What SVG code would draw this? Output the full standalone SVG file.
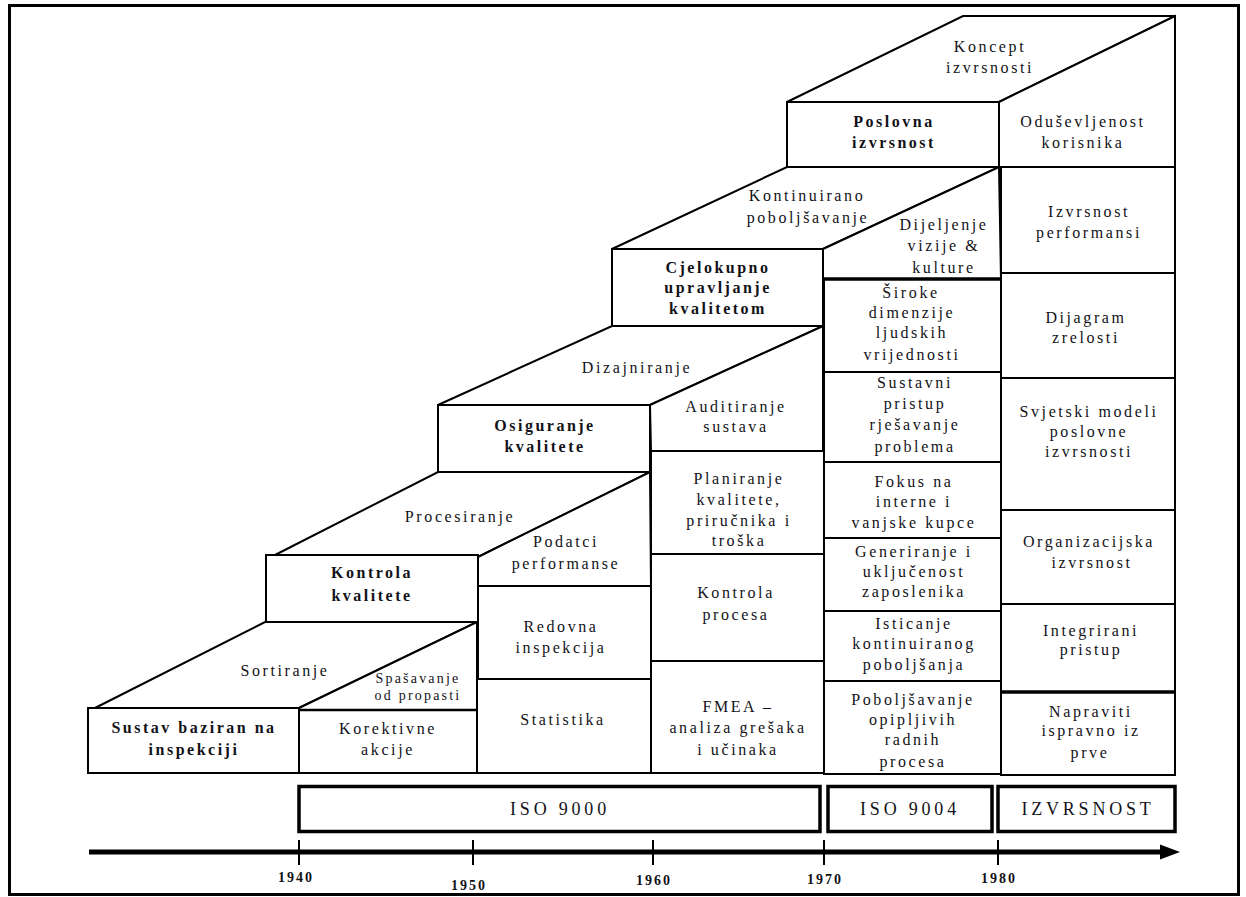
<svg xmlns="http://www.w3.org/2000/svg" width="1246" height="897" viewBox="0 0 1246 897">
<style>
.c{fill:#fff;stroke:#000;stroke-width:2;stroke-linejoin:miter}
.th{stroke:#000;stroke-width:3.5;fill:none}
.t{font-family:"Liberation Serif","Times New Roman",serif;font-size:16px;letter-spacing:2.6px;text-anchor:middle;fill:#121218}
.b{font-weight:bold;letter-spacing:2.5px}
.s{font-size:14px;letter-spacing:2.2px}
.iso{font-size:18px;letter-spacing:3.8px}
.yr{font-size:14px;font-weight:bold;letter-spacing:2px}
.box{fill:#fff;stroke:#000;stroke-width:3.5}
</style>
<rect x="0" y="0" width="1246" height="897" fill="#fff"/>
<rect x="9.5" y="5.5" width="1229" height="889" fill="none" stroke="#000" stroke-width="3"/>

<g id="step-1940">
  <polygon class="c" points="95,708 265,622 477,622 299,708"/>
  <text class="t" x="285" y="676">Sortiranje</text>
  <polygon class="c" points="299,708 477,622 477,710 299,710"/>
  <text class="t s"><tspan x="418" y="683">Spašavanje</tspan><tspan x="418" y="700">od propasti</tspan></text>
  <rect class="c" x="88" y="708" width="211" height="65"/>
  <text class="t b"><tspan x="194" y="733">Sustav baziran na</tspan><tspan x="194" y="755">inspekciji</tspan></text>
  <rect class="c" x="299" y="710" width="178" height="63"/>
  <text class="t"><tspan x="388" y="734">Korektivne</tspan><tspan x="388" y="755">akcije</tspan></text>
  <line x1="299" y1="710" x2="477" y2="710" stroke="#000" stroke-width="2.5"/>
</g>

<g id="step-1950">
  <polygon class="c" points="275,555 438,472 650,472 478,557"/>
  <text class="t" x="460" y="522">Procesiranje</text>
  <polygon class="c" points="478,557 650,472 651,586 478,586"/>
  <text class="t"><tspan x="566" y="547">Podatci</tspan><tspan x="566" y="569">performanse</tspan></text>
  <rect class="c" x="266" y="555" width="212" height="67"/>
  <text class="t b"><tspan x="372" y="578">Kontrola</tspan><tspan x="372" y="601">kvalitete</tspan></text>
  <rect class="c" x="478" y="586" width="173" height="93"/>
  <text class="t"><tspan x="561" y="632">Redovna</tspan><tspan x="561" y="653">inspekcija</tspan></text>
  <rect class="c" x="477" y="679" width="174" height="94"/>
  <text class="t" x="563" y="725">Statistika</text>
</g>

<g id="step-1960">
  <polygon class="c" points="438,405 612,326 823,326 650,405"/>
  <text class="t" x="637" y="373">Dizajniranje</text>
  <polygon class="c" points="650,405 823,326 823,451 651,451"/>
  <text class="t"><tspan x="736" y="412">Auditiranje</tspan><tspan x="736" y="432">sustava</tspan></text>
  <rect class="c" x="438" y="405" width="212" height="67"/>
  <text class="t b"><tspan x="545" y="431">Osiguranje</tspan><tspan x="545" y="452">kvalitete</tspan></text>
  <rect class="c" x="651" y="451" width="173" height="103"/>
  <text class="t"><tspan x="739" y="484">Planiranje</tspan><tspan x="739" y="505">kvalitete,</tspan><tspan x="739" y="526">priručnika i</tspan><tspan x="739" y="546">troška</tspan></text>
  <rect class="c" x="651" y="554" width="173" height="107"/>
  <text class="t"><tspan x="736" y="598">Kontrola</tspan><tspan x="736" y="620">procesa</tspan></text>
  <rect class="c" x="651" y="661" width="173" height="112"/>
  <text class="t"><tspan x="738" y="712">FMEA –</tspan><tspan x="738" y="733">analiza grešaka</tspan><tspan x="738" y="755">i učinaka</tspan></text>
</g>

<g id="step-1970">
  <polygon class="c" points="612,249 787,167 999,167 823,249"/>
  <text class="t"><tspan x="807" y="201">Kontinuirano</tspan><tspan x="808" y="223">poboljšavanje</tspan></text>
  <polygon class="c" points="823,249 999,167 1001,279 823,279"/>
  <text class="t"><tspan x="944" y="230">Dijeljenje</tspan><tspan x="944" y="251">vizije &amp;</tspan><tspan x="944" y="273">kulture</tspan></text>
  <rect class="c" x="612" y="249" width="211" height="77"/>
  <text class="t b"><tspan x="718" y="273">Cjelokupno</tspan><tspan x="718" y="293">upravljanje</tspan><tspan x="718" y="314">kvalitetom</tspan></text>
  <rect class="c" x="824" y="279" width="177" height="93"/>
  <text class="t"><tspan x="911" y="298">Široke</tspan><tspan x="912" y="318">dimenzije</tspan><tspan x="912" y="338">ljudskih</tspan><tspan x="912" y="360">vrijednosti</tspan></text>
  <rect class="c" x="824" y="372" width="177" height="90"/>
  <text class="t"><tspan x="915" y="388">Sustavni</tspan><tspan x="915" y="409">pristup</tspan><tspan x="915" y="430">rješavanje</tspan><tspan x="915" y="452">problema</tspan></text>
  <rect class="c" x="824" y="462" width="177" height="76"/>
  <text class="t"><tspan x="914" y="487">Fokus na</tspan><tspan x="914" y="507">interne i</tspan><tspan x="914" y="528">vanjske kupce</tspan></text>
  <rect class="c" x="824" y="538" width="177" height="73"/>
  <text class="t"><tspan x="914" y="557">Generiranje i</tspan><tspan x="914" y="577">uključenost</tspan><tspan x="914" y="597">zaposlenika</tspan></text>
  <rect class="c" x="824" y="611" width="177" height="70"/>
  <text class="t"><tspan x="914" y="629">Isticanje</tspan><tspan x="914" y="649">kontinuiranog</tspan><tspan x="914" y="670">poboljšanja</tspan></text>
  <rect class="c" x="824" y="681" width="177" height="93"/>
  <text class="t"><tspan x="913" y="705">Poboljšavanje</tspan><tspan x="913" y="725">opipljivih</tspan><tspan x="913" y="745">radnih</tspan><tspan x="913" y="767">procesa</tspan></text>
  <line class="th" x1="823" y1="279" x2="1001" y2="279" stroke-width="3"/>
</g>

<g id="step-1980">
  <polygon class="c" points="787,102 963,16 1175,16 999,102"/>
  <text class="t"><tspan x="990" y="52">Koncept</tspan><tspan x="990" y="73">izvrsnosti</tspan></text>
  <polygon class="c" points="999,102 1175,16 1175,167 999,167"/>
  <text class="t"><tspan x="1083" y="127">Oduševljenost</tspan><tspan x="1083" y="148">korisnika</tspan></text>
  <rect class="c" x="787" y="102" width="212" height="65"/>
  <text class="t b"><tspan x="894" y="127">Poslovna</tspan><tspan x="894" y="148">izvrsnost</tspan></text>
  <rect class="c" x="1001" y="167" width="174" height="106"/>
  <text class="t"><tspan x="1089" y="217">Izvrsnost</tspan><tspan x="1089" y="238">performansi</tspan></text>
  <rect class="c" x="1001" y="273" width="174" height="105"/>
  <text class="t"><tspan x="1086" y="323">Dijagram</tspan><tspan x="1086" y="343">zrelosti</tspan></text>
  <rect class="c" x="1001" y="378" width="174" height="132"/>
  <text class="t"><tspan x="1089" y="417">Svjetski modeli</tspan><tspan x="1089" y="437">poslovne</tspan><tspan x="1089" y="457">izvrsnosti</tspan></text>
  <rect class="c" x="1001" y="510" width="174" height="94"/>
  <text class="t"><tspan x="1089" y="547">Organizacijska</tspan><tspan x="1092" y="568">izvrsnost</tspan></text>
  <rect class="c" x="1001" y="604" width="174" height="88"/>
  <text class="t"><tspan x="1091" y="636">Integrirani</tspan><tspan x="1091" y="655">pristup</tspan></text>
  <rect class="c" x="1001" y="692" width="174" height="83"/>
  <text class="t"><tspan x="1091" y="717">Napraviti</tspan><tspan x="1091" y="736">ispravno iz</tspan><tspan x="1090" y="758">prve</tspan></text>
  <line class="th" x1="1001" y1="692" x2="1176" y2="692"/>
</g>

<g id="standards">
  <rect class="box" x="299" y="786.5" width="521" height="45"/>
  <text class="t iso" x="560" y="815">ISO 9000</text>
  <rect class="box" x="828" y="786.5" width="164" height="45"/>
  <text class="t iso" x="910" y="815">ISO 9004</text>
  <rect class="box" x="998" y="786.5" width="177" height="45"/>
  <text class="t iso" x="1088" y="815">IZVRSNOST</text>
</g>

<g id="connectors">
  <line x1="89" y1="852" x2="1164" y2="852" stroke="#000" stroke-width="5"/>
  <polygon points="1160,844.5 1180,852 1160,859.5" fill="#000"/>
  <g stroke="#000" stroke-width="2">
    <line x1="299" y1="840" x2="299" y2="865"/>
    <line x1="473" y1="840" x2="473" y2="865"/>
    <line x1="653" y1="840" x2="653" y2="865"/>
    <line x1="824" y1="840" x2="824" y2="865"/>
    <line x1="998" y1="840" x2="998" y2="865"/>
  </g>
  <text class="t yr" x="296" y="882">1940</text>
  <text class="t yr" x="469" y="890">1950</text>
  <text class="t yr" x="654" y="885">1960</text>
  <text class="t yr" x="825" y="884">1970</text>
  <text class="t yr" x="999" y="883">1980</text>
</g>
</svg>
